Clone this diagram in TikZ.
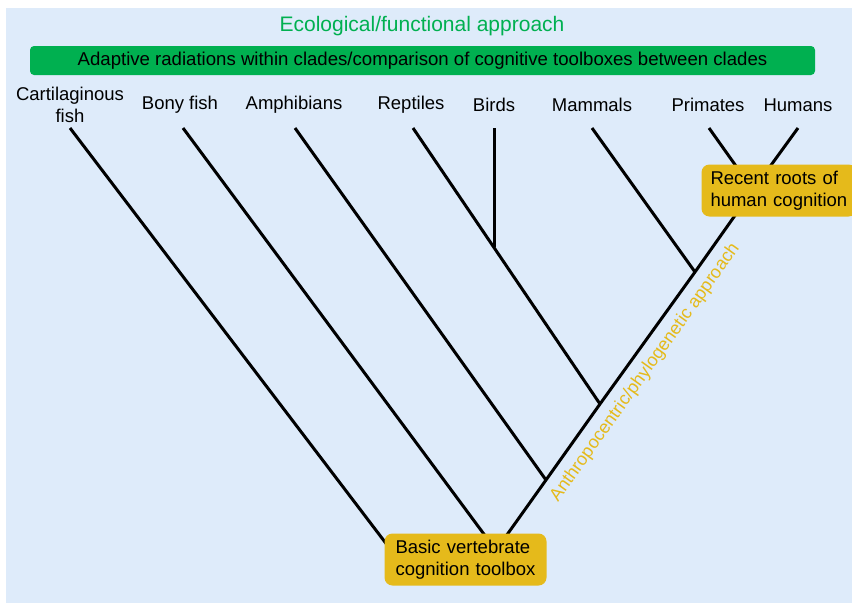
\documentclass[tikz,border=0pt]{standalone}
\usepackage{fontspec}
\setmainfont{Liberation Sans}
\usetikzlibrary{backgrounds,positioning}
\definecolor{paneblue}{RGB}{222,235,250}
\definecolor{cladegreen}{RGB}{0,176,80}
\definecolor{rootgold}{RGB}{229,186,27}
\tikzset{
    %Define style for tree branches
    branch/.style={
           draw=black,
           line width=3pt},
    %Define style for taxon labels
    taxon/.style={
           font=\fontsize{18.5}{22}\selectfont,
           align=center},
    %Define style for root boxes
    rootbox/.style={
           rectangle,
           rounded corners=8pt,
           fill=rootgold,
           text width=#1,
           inner xsep=11pt,
           minimum height=52pt,
           align=left,
           font=\fontsize{18.5}{22}\selectfont},
    % Define style for the clade bar
    cladebar/.style={
           rectangle,
           rounded corners=4pt,
           fill=cladegreen,
           minimum width=785pt,
           minimum height=29pt,
           font=\fontsize{18.6}{22}\selectfont}
}

\begin{document}
\begin{tikzpicture}[x=1pt, y=-1pt]
    \useasboundingbox (0,0) rectangle (852,603);

    % TITLE AND BAR
    \node[text=cladegreen, font=\fontsize{21}{24}\selectfont] (eco) at (422,26) {Ecological/functional approach};
    \node[cladebar] (radiation) at (422.5,60.5) {Adaptive radiations within clades/comparison of cognitive toolboxes between clades};

    % LEAVES
    \coordinate (cf) at (70,128);
    \coordinate (bf) at (183,128);
    \coordinate (amph) at (295,128);
    \coordinate (rep) at (413,128);
    \coordinate (bird) at (494,128);
    \coordinate (mam) at (592,128);
    \coordinate (prim) at (709,128);
    \coordinate (hum) at (798,128);

    \node[taxon] (cfLabel) at (70,105) {Cartilaginous\\fish};
    \node[taxon] (bfLabel) at (180,105) {Bony fish};
    \node[taxon] (amphLabel) at (294,105) {Amphibians};
    \node[taxon] (repLabel) at (411,105) {Reptiles};
    \node[taxon] (birdLabel) at (494,105) {Birds};
    \node[taxon] (mamLabel) at (592,105) {Mammals};
    \node[taxon] (primLabel) at (708,105) {Primates};
    \node[taxon] (humLabel) at (798,105) {Humans};

    % JUNCTIONS
    \coordinate (jBird) at (494,247);
    \coordinate (jPrim) at (753,190);
    \coordinate (jMam) at (695,272);
    \coordinate (jRep) at (600,404);
    \coordinate (jAmph) at (546,480);
    \coordinate (stem) at (499,546);
    \coordinate (bfEnd) at (492,545);
    \coordinate (cfEnd) at (391,550);

    % ROOT BOXES
    \node[rootbox=140pt] (basic) at (465.5,559.5) {Basic vertebrate\\cognition toolbox};
    \node[rootbox=137pt, inner xsep=9pt] (recent) at (779,190.5) {Recent roots of\\human cognition};

    \begin{scope}[on background layer]
    \fill[paneblue] (6,8) rectangle (852,603);
    \draw[branch] (cf) -- (cfEnd);
    \draw[branch] (bf) -- (bfEnd);
    \draw[branch] (amph) -- (jAmph);
    \draw[branch] (rep) -- (jRep);
    \draw[branch] (bird) -- (jBird);
    \draw[branch] (mam) -- (jMam);
    \draw[branch] (prim) -- (jPrim);
    \draw[branch] (hum) -- (jPrim) -- (jMam) -- (jRep) -- (jAmph) -- (stem);
    \end{scope}

    \path (stem) -- (hum) node[pos=0.44, sloped, below=6pt, text=rootgold, font=\fontsize{18}{22}\selectfont] (anthro) {Anthropocentric/phylogenetic approach};

\end{tikzpicture}
\end{document}
